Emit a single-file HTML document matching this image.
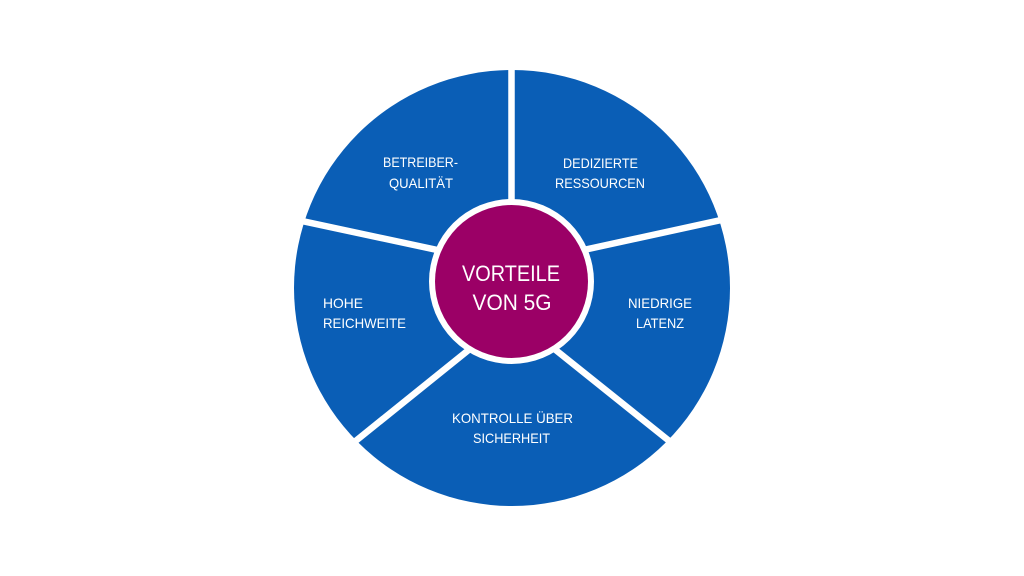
<!DOCTYPE html>
<html>
<head>
<meta charset="utf-8">
<style>
html,body{margin:0;padding:0;background:#fff;}
body{width:1024px;height:576px;overflow:hidden;}
svg{display:block;}
text{font-family:"Liberation Sans",sans-serif;fill:#fff;}
</style>
</head>
<body>
<svg width="1024" height="576" viewBox="0 0 1024 576" xmlns="http://www.w3.org/2000/svg">
  <rect width="1024" height="576" fill="#fff"/>
  <circle cx="512" cy="288" r="218" fill="#0A5EB6"/>
  <g stroke="#fff" stroke-width="6.5" stroke-linecap="butt">
    <line x1="511.5" y1="55" x2="511.5" y2="285"/>
    <line x1="280" y1="216.3" x2="512" y2="266"/>
    <line x1="745" y1="214.8" x2="512" y2="265.6"/>
    <line x1="512" y1="315" x2="335" y2="457.6"/>
    <line x1="512" y1="315" x2="690" y2="457.6"/>
  </g>
  <circle cx="511.5" cy="281.5" r="82.5" fill="#fff"/>
  <circle cx="511.5" cy="281.5" r="76.5" fill="#9B0066"/>

  <g font-size="14" text-anchor="middle">
    <text x="420.5" y="167" textLength="75" lengthAdjust="spacingAndGlyphs">BETREIBER-</text>
    <text x="421" y="188" textLength="64" lengthAdjust="spacingAndGlyphs">QUALITÄT</text>
    <text x="600.5" y="168" textLength="75" lengthAdjust="spacingAndGlyphs">DEDIZIERTE</text>
    <text x="600" y="188" textLength="90" lengthAdjust="spacingAndGlyphs">RESSOURCEN</text>
    <text x="660" y="308" textLength="64" lengthAdjust="spacingAndGlyphs">NIEDRIGE</text>
    <text x="660" y="328" textLength="48" lengthAdjust="spacingAndGlyphs">LATENZ</text>
    <text x="512.5" y="423" textLength="121" lengthAdjust="spacingAndGlyphs">KONTROLLE ÜBER</text>
    <text x="511.5" y="443" textLength="77" lengthAdjust="spacingAndGlyphs">SICHERHEIT</text>
  </g>
  <g font-size="14" text-anchor="start">
    <text x="323" y="308" textLength="40" lengthAdjust="spacingAndGlyphs">HOHE</text>
    <text x="323" y="328" textLength="83" lengthAdjust="spacingAndGlyphs">REICHWEITE</text>
  </g>
  <g font-size="22" text-anchor="middle">
    <text x="511" y="281" textLength="98" lengthAdjust="spacingAndGlyphs">VORTEILE</text>
    <text x="512" y="310" textLength="79" lengthAdjust="spacingAndGlyphs">VON 5G</text>
  </g>
</svg>
</body>
</html>
